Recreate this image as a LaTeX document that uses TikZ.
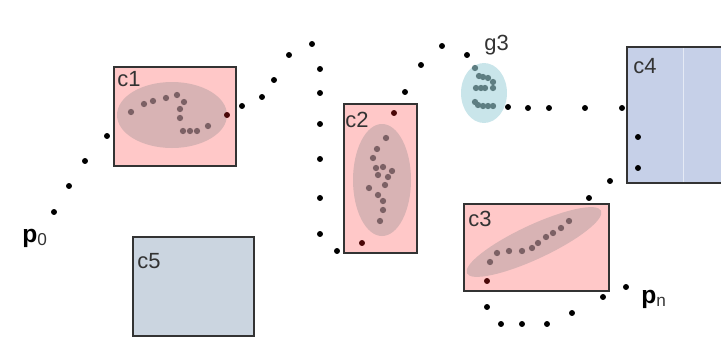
\documentclass[tikz,border=0pt]{standalone}
\usepackage{fontspec}
\setmainfont{Liberation Sans}
\definecolor{cpink}{HTML}{FFC8C8}
\definecolor{cblue}{HTML}{C6D0E8}
\definecolor{cgrey}{HTML}{CBD5E0}
\definecolor{hull}{HTML}{D8B3B4}
\definecolor{ghull}{HTML}{C9E5EA}
\definecolor{member}{HTML}{7C6165}
\definecolor{gmember}{HTML}{5E7E82}
\definecolor{core}{HTML}{4A0808}
\definecolor{edge}{HTML}{333333}

\begin{document}
\begin{tikzpicture}[x=0.02cm,y=-0.02cm,
        cell/.style={draw=edge,line width=0.7pt},
        lbl/.style={inner sep=0pt,anchor=base west,text=edge,font=\fontsize{12.5}{14}\selectfont},
        endlbl/.style={inner sep=0pt,anchor=base west,font=\fontsize{14}{16}\selectfont}]
        \useasboundingbox (0,0) rectangle (721,338);
        % cells
        \filldraw[cell,fill=cpink] (114,67) rectangle (236,166);
        \filldraw[cell,fill=cpink] (344,104) rectangle (417,253);
        \filldraw[cell,fill=cpink] (464,204) rectangle (609,291);
        \filldraw[cell,fill=cblue] (627,47) rectangle (740,183);
        \draw[white!55!cblue] (683,48) -- (683,182);
        \filldraw[cell,fill=cgrey] (133,237) rectangle (254,336);
        % clusters
        \fill[hull] (172,115) ellipse [x radius=55, y radius=33];
        \fill[hull] (382,180) ellipse [x radius=29, y radius=56];
        \begin{scope}[shift={(534,242)},rotate=25]
            \fill[hull] (0,0) ellipse [x radius=74, y radius=17];
        \end{scope}
        \fill[ghull] (484,93) ellipse [x radius=23, y radius=30];
        \foreach \x/\y in {131/112,144/104,153/101,166/98,177/95,184/102,180/109,
                180/118,183/131,190/131,197/131,208/126}
            \fill[member] (\x,\y) circle (1.8pt);
        \foreach \x/\y in {386/138,377/149,373/158,376/168,383/167,392/171,378/175,
                388/177,385/185,369/188,378/195,383/201,383/210,380/221}
            \fill[member] (\x,\y) circle (1.8pt);
        \foreach \x/\y in {490/262,497/253,509/251,522/251,532/248,538/243,546/237,
                553/233,561/228,569/221}
            \fill[member] (\x,\y) circle (1.8pt);
        \foreach \x/\y in {475/68,479/76,483/77,488/78,493/82,476/88,481/88,485/88,
                493/88,475/102,478/105,483/106,488/106,493/106}
            \fill[gmember] (\x,\y) circle (1.8pt);
        % trajectory
        \foreach \x/\y in {54/212,69/186,85/161,107/136,242/106,262/97,274/80,289/55,
                312/44,320/69,320/93,320/124,320/159,320/198,320/234,337/251,405/92,
                421/65,442/46,467/55,508/107,528/108,549/108,585/108,622/108,638/137,
                638/168,610/181,589/198,487/307,501/324,522/324,547/324,572/313,
                603/297,626/287}
            \fill[black] (\x,\y) circle (1.7pt);
        \foreach \x/\y in {227/115,362/243,394/113,487/281}
            \fill[core] (\x,\y) circle (1.7pt);
        % labels
        \node[lbl] (c1) at (117,86) {c1};
        \node[lbl] (c2) at (345,127) {c2};
        \node[lbl] (c3) at (468,226) {c3};
        \node[lbl] (c4) at (633,73) {c4};
        \node[lbl] (c5) at (137,268) {c5};
        \node[lbl] (g3) at (484,51) {g3};
        \node[endlbl] (p0) at (22,242) {\textbf{p}\textcolor{edge}{\textsubscript{0}}};
        \node[endlbl] (pn) at (641,303) {\textbf{p}\textcolor{edge}{\textsubscript{n}}};
    \end{tikzpicture}
\end{document}
